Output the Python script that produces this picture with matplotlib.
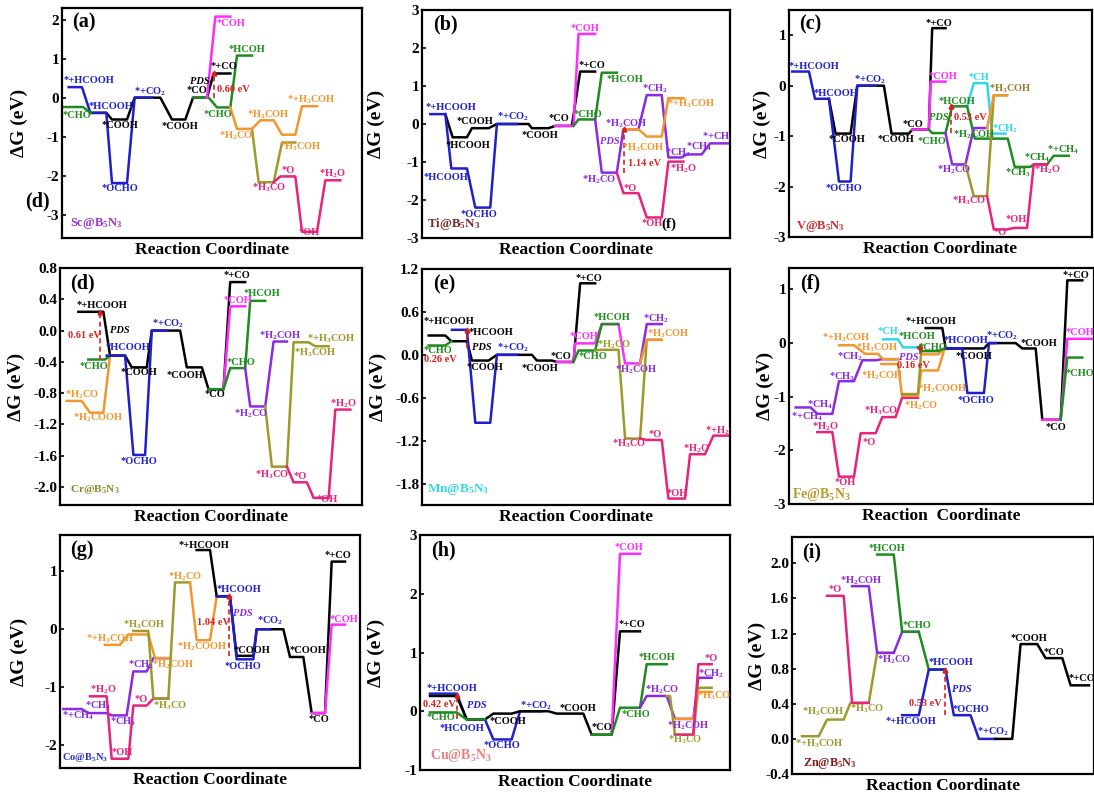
import re
import matplotlib
matplotlib.use('Agg')
import matplotlib.pyplot as plt

plt.rcParams['font.family'] = 'Liberation Serif'
plt.rcParams['font.weight'] = 'bold'
plt.rcParams['axes.labelweight'] = 'bold'
plt.rcParams['mathtext.fontset'] = 'custom'
plt.rcParams['mathtext.rm'] = 'Liberation Serif:bold'
plt.rcParams['mathtext.it'] = 'Liberation Serif:italic:bold'
plt.rcParams['mathtext.bf'] = 'Liberation Serif:bold'
plt.rcParams['axes.unicode_minus'] = False

# colours
K = 'black'
B = '#1f1fcc'
G = '#1e8c1e'
M = '#ff2bff'
P = '#e6237d'
O = '#f2962e'
L = '#9c9a2c'
V = '#8a2be2'
C = '#2fd8ea'
R = '#d82020'
BR = '#9a7b2c'

# each path: colour, list of levels (start, end, dG in eV) along the reaction coordinate
# ---------------- (a) Sc ----------------
a_paths = [
    (K, [(270, 318, -0.39), (335, 380, -0.56), (403, 480, 0), (515, 555, -0.56), (578, 620, 0), (640, 690, 0.62)]),
    (B, [(205, 245, 0.27), (270, 318, -0.39), (335, 380, -2.19), (403, 455, 0)]),
    (G, [(190, 248, -0.24), (270, 270, -0.39)]),
    (G, [(578, 625, 0), (650, 690, -0.25), (710, 755, 1.08)]),
    (M, [(620, 620, 0), (645, 690, 2.08)]),
    (L, [(755, 755, -0.80), (775, 820, -2.17), (845, 885, -1.15)]),
    (O, [(690, 690, -0.25), (710, 755, -0.80), (780, 820, -0.58), (845, 885, -0.95), (905, 950, -0.22)]),
    (P, [(820, 820, -2.17), (840, 885, -2.02), (905, 950, -3.44), (975, 1020, -2.12)]),
]
a_labels = [
    (190, 0.44, '*+HCOOH', B), (265, -0.22, '*HCOOH', B), (186, -0.46, '*CHO', G),
    (305, -0.72, '*COOH', K), (305, -2.34, '*OCHO', B), (400, 0.16, '*+CO2', B),
    (485, -0.73, '*COOH', K), (560, 0.19, '*CO', K), (630, 0.80, '*+CO', K),
    (650, 1.91, '*COH', M), (685, 1.23, '*HCOH', G), (610, -0.42, '*CHO', G),
    (740, -0.44, '*H2COH', O), (860, -0.05, '*+H3COH', O), (655, -0.97, '*H2CO', O),
    (835, -1.27, '*H3COH', O), (755, -2.32, '*H3CO', P), (845, -1.87, '*O', P),
    (895, -3.47, '*OH', P), (955, -1.96, '*H2O', P),
]
a_pds = (642, 0.0, 0.62, 570, 0.42, K, 650, 0.22, '0.60 eV')

# ---------------- (b) Ti ----------------
b_paths = [
    (K, [(240, 240, 0.26), (262, 305, -0.35), (320, 370, -0.11), (395, 490, 0), (500, 550, -0.11), (570, 620, -0.05), (645, 690, 1.38)]),
    (B, [(195, 240, 0.26), (258, 305, -1.17), (330, 375, -2.20), (395, 455, 0)]),
    (M, [(570, 625, -0.05), (640, 690, 2.37)]),
    (G, [(625, 625, -0.05), (640, 690, 0.12), (710, 755, 1.35)]),
    (V, [(690, 690, 0.12), (710, 755, -1.28), (775, 820, -0.14), (845, 890, 0.76), (910, 950, -0.88), (965, 1010, -0.80), (1035, 1095, -0.51)]),
    (O, [(775, 820, -0.14), (845, 890, -0.33), (910, 955, 0.68)]),
    (P, [(755, 755, -1.28), (775, 820, -1.82), (845, 890, -2.46), (910, 955, -0.99)]),
]
b_labels = [
    (180, 0.44, '*+HCOOH', B), (275, 0.06, '*COOH', K), (240, -0.57, '*HCOOH', K),
    (395, 0.18, '*+CO2', B), (470, -0.29, '*COOH', K), (550, 0.15, '*CO', K),
    (175, -1.40, '*HCOOH', B), (285, -2.39, '*OCHO', B), (615, 2.52, '*COH', M),
    (640, 1.55, '*+CO', K), (625, 0.26, '*CHO', G), (725, 1.16, '*HCOH', G),
    (830, 0.94, '*CH2', V), (905, 0.53, '*+H3COH', O), (720, 0.0, '*H2COH', V),
    (770, -0.62, '*H3COH', O), (900, -0.75, '*CH3', V), (962, -0.60, '*CH4', V),
    (1010, -0.33, '*+CH4', V), (915, -1.19, '*H2O', P), (650, -1.47, '*H2CO', V),
    (775, -1.69, '*O', P), (830, -2.61, '*OH', P),
]
b_pds = (778, -1.28, -0.14, 705, -0.46, V, 790, -1.05, '1.14 eV')

# ---------------- (c) V ----------------
c_paths = [
    (K, [(300, 300, -0.26), (320, 365, -0.95), (385, 465, 0), (488, 540, -0.95), (550, 600, -0.87), (610, 650, 1.14)]),
    (B, [(190, 240, 0.28), (258, 300, -0.26), (330, 365, -1.90), (385, 440, 0)]),
    (M, [(550, 600, -0.87), (605, 650, 0.08)]),
    (C, [(715, 715, -0.41), (735, 775, 0.05), (790, 830, -0.95)]),
    (G, [(600, 600, -0.87), (610, 650, -0.94), (670, 715, -0.41), (738, 837, -1.05), (858, 905, -1.61), (915, 955, -1.56), (975, 1020, -1.39)]),
    (V, [(650, 650, -0.94), (670, 710, -1.56), (735, 775, -0.84)]),
    (L, [(710, 710, -1.56), (735, 775, -2.19), (795, 835, -0.19)]),
    (O, [(775, 775, -0.84), (795, 835, -0.19)]),
    (P, [(775, 775, -2.19), (795, 835, -2.85), (855, 895, -2.82), (915, 955, -1.56)]),
]
c_labels = [
    (180, 0.38, '*+HCOOH', B), (255, -0.16, '*HCOOH', B), (375, 0.12, '*+CO2', B),
    (300, -1.07, '*COOH', K), (290, -2.03, '*OCHO', B), (445, -1.07, '*COOH', K),
    (520, -0.77, '*CO', K), (590, 1.24, '*+CO', K), (600, 0.18, '*COH', M),
    (630, -0.31, '*HCOH', G), (565, -1.10, '*CHO', G), (672, -0.97, '*H2COH', G),
    (720, 0.17, '*CH', C), (780, -0.07, '*H3COH', BR), (790, -0.86, '*CH2', C),
    (625, -1.66, '*H2CO', V), (885, -1.43, '*CH4', G), (955, -1.28, '*+CH4', G),
    (830, -1.72, '*CH3', G), (915, -1.66, '*H2O', P), (670, -2.29, '*H3CO', P),
    (795, -2.92, '*O', P), (830, -2.65, '*OH', P),
]
c_pds = (668, -0.94, -0.41, 600, -0.64, G, 675, -0.64, '0.53 eV')

# ---------------- (d) Cr ----------------
d_paths = [
    (K, [(235, 310, 0.24), (330, 375, -0.32), (395, 440, -0.47), (455, 540, 0), (560, 605, -0.47), (625, 670, -0.75), (690, 735, 0.62)]),
    (O, [(200, 245, -0.90), (270, 310, -1.05), (330, 330, -0.32)]),
    (G, [(265, 315, -0.37), (330, 330, -0.32)]),
    (B, [(320, 375, -0.32), (400, 435, -1.59), (455, 500, 0)]),
    (M, [(670, 670, -0.75), (690, 735, 0.31)]),
    (G, [(625, 670, -0.75), (690, 735, -0.48), (750, 795, 0.38)]),
    (V, [(735, 735, -0.48), (750, 795, -0.97), (820, 860, -0.14)]),
    (L, [(795, 795, -0.97), (815, 860, -1.74), (880, 925, -0.15), (945, 985, -0.20)]),
    (P, [(860, 860, -1.74), (880, 920, -1.94), (940, 985, -2.14), (1005, 1050, -1.01)]),
]
d_labels = [
    (230, 0.32, '*+HCOOH', K), (318, -0.21, '*HCOOH', B), (240, -0.46, '*CHO', G),
    (360, -0.54, '*COOH', K), (455, 0.09, '*+CO2', B), (500, -0.57, '*COOH', K),
    (612, -0.82, '*CO', K), (670, 0.70, '*+CO', K), (670, 0.38, '*COH', M),
    (730, 0.48, '*HCOH', G), (680, -0.41, '*CHO', G), (775, -0.07, '*H2COH', V),
    (920, -0.11, '*+H3COH', L), (880, -0.28, '*H3COH', L), (195, -0.82, '*H2CO', O),
    (220, -1.12, '*H2COOH', O), (700, -1.06, '*H2CO', V), (360, -1.67, '*OCHO', B),
    (765, -1.84, '*H3CO', P), (880, -1.87, '*O', P), (950, -2.16, '*OH', P),
    (990, -0.93, '*H2O', P),
]
d_pds = (300, -0.37, 0.24, 330, 0.0, K, 205, -0.06, '0.61 eV')

# ---------------- (e) Mn ----------------
e_paths = [
    (K, [(190, 240, 0.27), (258, 305, 0.19), (320, 370, -0.08), (395, 500, 0), (515, 560, -0.08), (575, 625, -0.10), (645, 690, 1.0)]),
    (B, [(260, 305, 0.35), (330, 375, -0.95), (395, 455, 0)]),
    (G, [(190, 240, 0.13), (258, 258, 0.19)]),
    (M, [(575, 625, -0.10), (630, 690, 0.16), (710, 760, 0.43), (780, 825, -0.12)]),
    (G, [(625, 625, -0.10), (640, 690, 0.06), (710, 760, 0.43)]),
    (L, [(690, 690, 0.06), (705, 760, 0.07), (780, 825, -1.17), (845, 890, 0.21)]),
    (V, [(825, 825, -0.12), (845, 890, 0.43)]),
    (O, [(825, 825, -0.12), (845, 890, 0.21)]),
    (P, [(825, 825, -1.17), (845, 890, -1.19), (910, 960, -2.01), (975, 1020, -1.39), (1045, 1095, -1.13)]),
]
e_labels = [
    (175, 0.46, '*+HCOOH', K), (310, 0.31, '*HCOOH', K), (175, 0.06, '*CHO', G),
    (395, 0.10, '*+CO2', B), (305, -0.18, '*COOH', K), (470, -0.19, '*COOH', K),
    (555, -0.02, '*CO', K), (630, 1.07, '*+CO', K), (612, 0.25, '*COH', M),
    (640, -0.02, '*CHO', G), (685, 0.52, '*HCOH', G), (695, 0.14, '*H2CO', L),
    (835, 0.51, '*CH2', V), (845, 0.29, '*H3COH', O), (750, -0.21, '*H2COH', V),
    (740, -1.25, '*H3CO', P), (850, -1.12, '*O', P), (905, -1.94, '*OH', P),
    (955, -1.31, '*H2O', P), (1020, -1.06, '*+H2O', P),
]
e_pds = (305, 0.10, 0.35, 320, 0.10, K, 175, -0.07, '0.26 eV')

# ---------------- (f) Fe ----------------
f_paths = [
    (P, [(265, 310, -1.66), (330, 375, -2.49), (395, 440, -1.68), (460, 500, -1.38), (519, 567, -1.02)]),
    (V, [(200, 245, -1.20), (265, 310, -1.32), (330, 375, -0.71), (400, 440, -0.32), (460, 507, -0.30)]),
    (O, [(330, 375, -0.04), (408, 447, -0.20), (462, 507, -0.30)]),
    (O, [(457, 507, -0.39), (519, 567, -0.98), (577, 627, -0.51), (647, 647, -0.10)]),
    (O, [(577, 627, -0.21), (647, 647, -0.10)]),
    (L, [(519, 567, -0.95), (577, 577, -0.13)]),
    (C, [(462, 507, 0.07), (522, 567, -0.08)]),
    (G, [(567, 567, -0.08), (577, 627, -0.15), (647, 700, -0.10)]),
    (K, [(590, 640, 0.28), (650, 700, -0.10), (720, 765, -0.10), (780, 860, 0), (880, 920, -0.10), (940, 995, -1.43), (1015, 1060, 1.17)]),
    (B, [(650, 700, -0.10), (715, 765, -0.93), (780, 800, 0)]),
    (M, [(940, 995, -1.43), (1015, 1095, 0.08)]),
    (G, [(995, 995, -1.43), (1015, 1060, -0.27)]),
]
f_labels = [
    (185, -1.38, '*+CH4', V), (235, -1.15, '*CH4', V), (250, -1.56, '*H2O', P),
    (318, -2.60, '*OH', P), (400, -1.85, '*O', P), (405, -1.26, '*H3CO', P),
    (300, -0.62, '*CH3', V), (395, -0.60, '*H2COH', O), (325, -0.25, '*CH2', V),
    (280, 0.10, '*+H3COH', O), (380, -0.09, '*H3COH', O), (445, 0.22, '*CH', C),
    (510, 0.12, '*HCOH', G), (570, -0.09, '*CHO', G), (565, -0.85, '*H2COOH', O),
    (525, -1.17, '*H2CO', O), (530, 0.40, '*+HCOOH', K), (645, 0.05, '*HCOOH', B),
    (680, -0.25, '*COOH', K), (685, -1.07, '*OCHO', B), (770, 0.14, '*+CO2', B),
    (875, 0.0, '*COOH', K), (950, -1.57, '*CO', K), (1000, 1.26, '*+CO', K),
    (1010, 0.19, '*COH', M), (1010, -0.57, '*CHO', G),
]
f_pds = (572, -0.21, -0.05, 510, -0.26, V, 505, -0.42, '0.16 eV')

# ---------------- (g) Co ----------------
g_paths = [
    (V, [(190, 245, -1.38), (265, 320, -1.45), (335, 380, -1.49), (400, 440, -0.73), (460, 505, -0.50)]),
    (P, [(270, 320, -1.16), (335, 385, -2.24), (400, 440, -1.32), (460, 505, -1.20)]),
    (O, [(315, 360, -0.27), (385, 445, -0.09), (465, 505, -0.50)]),
    (L, [(400, 445, -0.03), (460, 505, -1.20), (525, 570, 0.81)]),
    (O, [(570, 570, 0.81), (590, 630, -0.19), (650, 690, 0.57)]),
    (K, [(590, 630, 1.37), (650, 690, 0.57), (710, 760, -0.46), (770, 850, 0), (870, 910, -0.48), (935, 975, -1.45), (995, 1035, 1.17)]),
    (B, [(650, 690, 0.57), (710, 760, -0.52), (770, 810, 0)]),
    (M, [(935, 975, -1.45), (995, 1035, 0.08)]),
]
g_labels = [
    (535, 1.45, '*+HCOOH', K), (505, 0.91, '*H2CO', O), (650, 0.69, '*HCOOH', B),
    (975, 1.27, '*+CO', K), (770, 0.14, '*CO2', B), (990, 0.16, '*COH', M),
    (370, 0.08, '*H3COH', L), (258, -0.16, '*+H3COH', O), (530, -0.31, '*H2COOH', O),
    (700, -0.36, '*COOH', K), (870, -0.36, '*COOH', K), (675, -0.65, '*OCHO', B),
    (385, -0.61, '*CH2', V), (455, -0.61, '*H2COH', O), (270, -1.04, '*H2O', P),
    (405, -1.21, '*O', P), (460, -1.32, '*H3CO', L), (255, -1.33, '*CH4', V),
    (185, -1.50, '*+CH4', V), (330, -1.60, '*CH3', V), (925, -1.56, '*CO', K),
    (335, -2.13, '*OH', P),
]
g_pds = (688, -0.47, 0.57, 700, 0.27, V, 590, 0.12, '1.04 eV')

# ---------------- (h) Cu ----------------
h_paths = [
    (B, [(195, 275, 0.30), (305, 360, -0.14), (385, 440, -0.48), (465, 530, 0)]),
    (K, [(195, 275, 0.26), (305, 360, -0.14), (385, 440, -0.04), (465, 550, 0), (575, 655, -0.04), (680, 740, -0.40), (765, 825, 1.36)]),
    (G, [(195, 275, -0.02), (305, 360, -0.14)]),
    (M, [(740, 740, -0.40), (765, 825, 2.68)]),
    (G, [(680, 740, -0.40), (765, 825, 0.06), (845, 905, 0.80)]),
    (V, [(825, 825, 0.06), (845, 905, 0.26), (930, 985, -0.13), (1000, 1040, 0.57)]),
    (L, [(905, 915, 0.26), (930, 985, -0.40), (1000, 1040, 0.40)]),
    (O, [(930, 985, -0.13), (1000, 1040, 0.33)]),
    (P, [(930, 985, -0.40), (1000, 1040, 0.80)]),
]
h_labels = [
    (185, 0.39, '*+HCOOH', B), (185, -0.11, '*CHO', G), (225, -0.30, '*HCOOH', B),
    (375, -0.17, '*COOH', K), (355, -0.59, '*OCHO', B), (465, 0.10, '*+CO2', B),
    (585, 0.05, '*COOH', K), (680, -0.28, '*CO', K), (750, 2.78, '*COH', M),
    (760, 1.47, '*+CO', K), (820, 0.91, '*HCOH', G), (770, -0.06, '*CHO', G),
    (840, 0.37, '*H2CO', V), (905, -0.25, '*H2COH', V), (910, -0.49, '*H3CO', L),
    (1020, 0.90, '*O', P), (1000, 0.64, '*CH2', V), (995, 0.26, '*H3COH', O),
]
h_pds = (275, -0.14, 0.28, 305, 0.10, B, 175, 0.11, '0.42 eV')

# ---------------- (i) Zn ----------------
i_paths = [
    (L, [(220, 270, 0.03), (295, 345, 0.22), (365, 420, 0.41), (445, 495, 0.98)]),
    (P, [(295, 345, 1.63), (370, 420, 0.41)]),
    (V, [(370, 420, 1.74), (445, 495, 0.98), (520, 570, 1.22)]),
    (G, [(445, 495, 2.10), (520, 570, 1.22), (600, 650, 0.79)]),
    (B, [(520, 570, 0.27), (600, 650, 0.79), (675, 725, 0.27), (750, 800, 0)]),
    (K, [(800, 850, 0), (875, 925, 1.08), (950, 1000, 0.92), (1025, 1080, 0.61)]),
]
i_labels = [
    (420, 2.17, '*HCOH', G), (335, 1.80, '*H2COH', V), (300, 1.70, '*O', P),
    (520, 1.29, '*CHO', G), (845, 1.14, '*COOH', K), (945, 0.98, '*CO', K),
    (598, 0.87, '*HCOOH', B), (445, 0.90, '*H2CO', V), (1020, 0.69, '*+CO', K),
    (672, 0.33, '*OCHO', B), (220, 0.31, '*H3COH', L), (365, 0.34, '*H3CO', L),
    (470, 0.20, '*+HCOOH', B), (745, 0.08, '*+CO2', B), (200, -0.05, '*+H3COH', L),
]
i_pds = (648, 0.27, 0.79, 668, 0.56, B, 540, 0.40, '0.53 eV')

# catalyst labels: text, colour, size, position (axes fraction)
mat_text = ['Sc@B5N3', 'Ti@B5N3', 'V@B5N3', 'Cr@B5N3', 'Mn@B5N3', 'Fe@B5N3', 'Co@B5N3', 'Cu@B5N3', 'Zn@B5N3']
mat_color = ['#9b30d0', '#7a2a2a', '#d02a2a', '#8e8a2a', '#33d6e0', '#b89a2a', '#2a2ad0', '#e88080', '#8b1a1a']
mat_size = [9, 9.3, 9, 8.2, 9.5, 10, 7.5, 10, 8.7]
mat_pos = [(0.028, 0.065), (0.016, 0.06), (0.022, 0.047), (0.033, 0.066), (0.016, 0.066),
           (0.011, 0.042), (0.006, 0.043), (0.032, 0.06), (0.038, 0.046)]

# axes box in pixels (left, top, right, bottom), x range, y range, y ticks
panels = [
    ('(a)', (62, 8, 362, 238), (185, 1085), (-3.6, 2.3), [-3, -2, -1, 0, 1, 2], '%d', a_paths, a_labels, a_pds, 28),
    ('(b)', (422, 10, 730, 238), (170, 1095), (-3, 3), [-3, -2, -1, 0, 1, 2, 3], '%d', b_paths, b_labels, b_pds, 385),
    ('(c)', (789, 10, 1092, 237), (180, 1090), (-3, 1.5), [-3, -2, -1, 0, 1], '%d', c_paths, c_labels, c_pds, 771),
    ('(d)', (60, 268, 362, 505), (180, 1085), (-2.23, 0.8), [-2.0, -1.6, -1.2, -0.8, -0.4, 0.0, 0.4, 0.8], '%.1f', d_paths, d_labels, d_pds, 25),
    ('(e)', (422, 269, 730, 505), (170, 1095), (-2.1, 1.2), [-1.8, -1.2, -0.6, 0.0, 0.6, 1.2], '%.1f', e_paths, e_labels, e_pds, 387),
    ('(f)', (789, 268, 1094, 504), (180, 1095), (-3, 1.4), [-3, -2, -1, 0, 1], '%d', f_paths, f_labels, f_pds, 774),
    ('(g)', (60, 535, 360, 768), (180, 1080), (-2.4, 1.63), [-2, -1, 0, 1], '%d', g_paths, g_labels, g_pds, 28),
    ('(h)', (420, 535, 730, 770), (165, 1095), (-1, 3), [-1, 0, 1, 2, 3], '%d', h_paths, h_labels, h_pds, 385),
    ('(i)', (792, 537, 1094, 774), (190, 1095), (-0.4, 2.3), [-0.4, 0.0, 0.4, 0.8, 1.2, 1.6, 2.0], '%.1f', i_paths, i_labels, i_pds, 766),
]


def sub(s):
    return re.sub(r'(?<=[A-Za-z])(\d)', r'$_\1$', s)


W, H = 1094, 796
fig = plt.figure(figsize=(W / 100, H / 100), dpi=100)

for n, (tag, rect, xlim, ylim, yt, fmt, paths, labels, pds, ylx) in enumerate(panels):
    l, t, r, b = rect
    ax = fig.add_axes([l / W, 1 - b / H, (r - l) / W, (b - t) / H])
    for col, lev in paths:
        xs, ys = [], []
        for x0, x1, g in lev:
            xs += [x0, x1]
            ys += [g, g]
        ax.plot(xs, ys, color=col, lw=1.8)
    for x, g, s, col in labels:
        ax.text(x, g, sub(s), color=col, fontsize=7.5, va='center', ha='left', clip_on=True)
    # PDS arrow
    px, g0, g1, tx, ty, tcol, ex, ey, etxt = pds
    ax.plot([px, px], [g0, g1], color=R, lw=1.2, ls=(0, (3, 2)))
    ax.plot(px, g1, marker='^', color=R, ms=3.5)
    ax.text(tx, ty, 'PDS', color=tcol, fontsize=7.5, style='italic', va='center')
    ax.text(ex, ey, etxt, color=R, fontsize=7.5, va='center')

    ax.set_xlim(xlim)
    ax.set_ylim(ylim)
    ax.set_xticks([])
    ax.set_yticks(yt)
    ax.set_yticklabels([fmt % v for v in yt])
    ax.tick_params(axis='y', direction='in', length=3, width=1.2, labelsize=11, pad=2)
    for sp in ax.spines.values():
        sp.set_linewidth(1.6)
    xl = 'Reaction  Coordinate' if tag == '(f)' else 'Reaction Coordinate'
    ax.set_xlabel(xl, fontsize=12.5, labelpad=3)
    ax.set_ylabel('ΔG (eV)', fontsize=14)
    ax.yaxis.set_label_coords((ylx - l) / (r - l), 0.5)
    ax.text(0.035, 0.935, tag, transform=ax.transAxes, fontsize=14.5, va='center')
    mx, my = mat_pos[n]
    ax.text(mx, my, sub(mat_text[n]), transform=ax.transAxes, color=mat_color[n],
            fontsize=mat_size[n], va='center')
    if tag == '(b)':
        ax.text(890, -2.63, '(f)', fontsize=11, va='center')

fig.text(25 / W, 1 - 201 / H, '(d)', fontsize=14.5, va='center')

fig.savefig('out.png', dpi=100)
